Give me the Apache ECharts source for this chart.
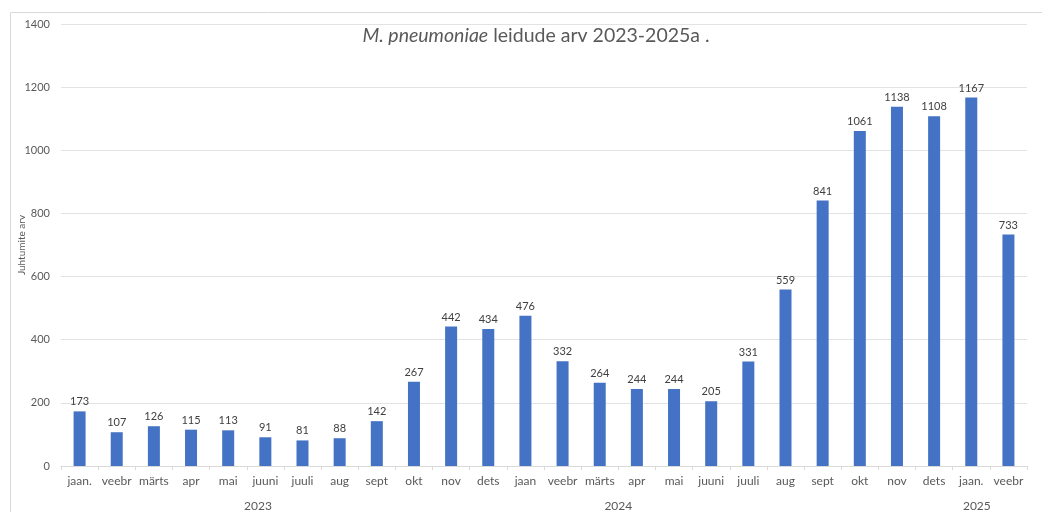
<!DOCTYPE html>
<html>
<head>
<meta charset="utf-8">
<script src="https://cdn.jsdelivr.net/npm/echarts@6/dist/echarts.min.js"></script>
<style>
html,body{margin:0;padding:0;background:#fff;}
#chart{width:1042px;height:512px;}
</style>
</head>
<body>
<div id="chart"></div>
<script>
const months = ['jaan.','veebr','märts','apr','mai','juuni','juuli','aug','sept','okt','nov','dets',
                'jaan','veebr','märts','apr','mai','juuni','juuli','aug','sept','okt','nov','dets',
                'jaan.','veebr'];
const cases = [173,107,126,115,113,91,81,88,142,267,442,434,
               476,332,264,244,244,205,331,559,841,1061,1138,1108,
               1167,733];
const years = ['2023','2024','2025'];
const yearLabelPos = [5.3, 15.0, 24.65];
const yTicks = [0,200,400,600,800,1000,1200,1400];

const FONT = 'Lato';
const chart = echarts.init(document.getElementById('chart'));
chart.setOption({
  animation: false,
  textStyle: {fontFamily: FONT},
  title: {
    text: '{i|M. pneumoniae} leidude arv 2023-2025a .',
    left: 531, top: 21, textAlign: 'center',
    textStyle: {
      fontSize: 19.5, fontWeight: 'normal', color: '#595959', fontFamily: FONT,
      rich: {i: {fontStyle: 'italic', fontSize: 19.5, color: '#595959', fontFamily: FONT}}
    }
  },
  graphic: [{
    type: 'rect', silent: true,
    shape: {x: 10.5, y: 12.5, width: 1100, height: 600},
    style: {fill: 'none', stroke: '#d9d9d9', lineWidth: 1}
  }],
  grid: {left: 61, right: 15, top: 24, bottom: 46, containLabel: false, outerBoundsMode: 'none'},
  xAxis: [{
    type: 'category', data: months, position: 'bottom',
    axisLine: {lineStyle: {color: '#d9d9d9'}},
    axisTick: {show: true, length: 4, lineStyle: {color: '#d9d9d9'}},
    axisLabel: {color: '#595959', fontSize: 12, margin: 9, interval: 0, fontFamily: FONT}
  }, {
    type: 'value', min: 0, max: 26, position: 'bottom', offset: 26,
    axisLine: {show: false}, axisTick: {show: false}, splitLine: {show: false},
    axisLabel: {
      color: '#595959', fontSize: 12, margin: 8, fontFamily: FONT,
      customValues: yearLabelPos,
      formatter: function (v) {
        const i = yearLabelPos.indexOf(v);
        return i >= 0 ? years[i] : '';
      }
    }
  }],
  yAxis: {
    type: 'value', min: yTicks[0], max: yTicks[yTicks.length - 1], interval: 200,
    name: 'Juhtumite arv', nameLocation: 'middle', nameGap: 34, nameMoveOverlap: false,
    nameTextStyle: {color: '#595959', fontSize: 10, fontFamily: FONT},
    axisLine: {show: false}, axisTick: {show: false},
    axisLabel: {color: '#595959', fontSize: 11, margin: 11, fontFamily: FONT,
                formatter: function (v) { return String(v); }},
    splitLine: {lineStyle: {color: '#e3e3e3', width: 1}}
  },
  series: [{
    type: 'bar', data: cases, xAxisIndex: 0, barWidth: 12,
    itemStyle: {color: '#4472C4'},
    label: {show: true, position: 'top', distance: 4, color: '#404040', fontSize: 11, fontFamily: FONT}
  }]
});
</script>
</body>
</html>
